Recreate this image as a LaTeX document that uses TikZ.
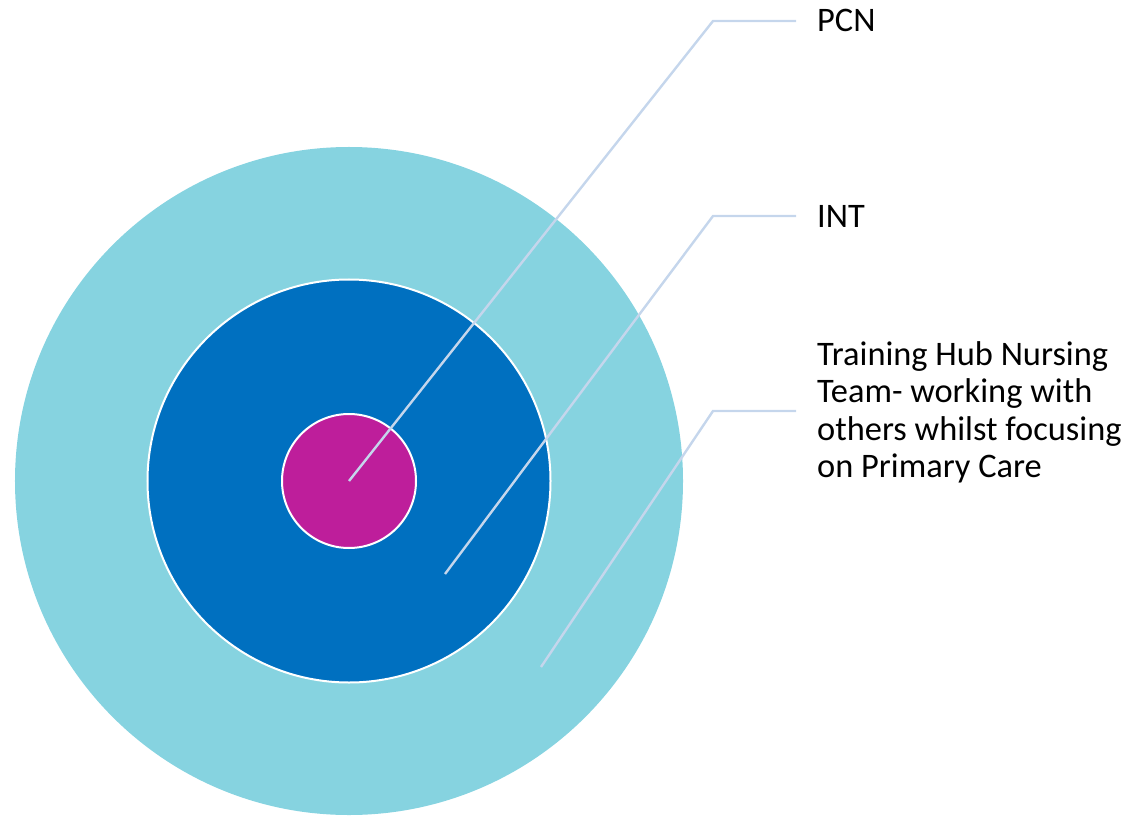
\documentclass[tikz,border=0pt]{standalone}
\usepackage{fontspec}
\setmainfont{Carlito}
\definecolor{outerc}{HTML}{86D3E0}
\definecolor{midc}{HTML}{0070C0}
\definecolor{innerc}{HTML}{BE1E9B}
\definecolor{leadc}{HTML}{C5D6EC}
\begin{document}
\begin{tikzpicture}[x=1bp,y=-1bp,
  ring/.style={circle,inner sep=0pt,minimum size=#1},
  leader/.style={draw=leadc,line width=2.4bp},
  lbl/.style={inner sep=0pt,anchor=base west,font=\fontsize{34.4bp}{37.5bp}\selectfont,align=left}]
\useasboundingbox (0,0) rectangle (1130,817);
\node[ring=668bp,fill=outerc] (outer) at (349,481) {};
\node[ring=403bp,fill=midc,draw=white,line width=2bp] (mid) at (349,481) {};
\node[ring=134bp,fill=innerc,draw=white,line width=2bp] (inner) at (349,481) {};
% leader coordinates
\coordinate (p0) at (349,481);
\coordinate (p1) at (713,21);
\coordinate (p2) at (796,21);
\coordinate (i0) at (445,574);
\coordinate (i1) at (713,216);
\coordinate (i2) at (796,216);
\coordinate (t0) at (541,667);
\coordinate (t1) at (713,411);
\coordinate (t2) at (796,411);
\draw[leader] (p0) -- (p1) -- (p2);
\draw[leader] (i0) -- (i1) -- (i2);
\draw[leader] (t0) -- (t1) -- (t2);
\node[lbl] (pcn) at (817,32) {PCN};
\node[lbl] (int) at (817,227) {INT};
\node[lbl,anchor=north west] (hub) at (817,341) {Training Hub Nursing\\Team- working with\\others whilst focusing\\on Primary Care};
\end{tikzpicture}
\end{document}
